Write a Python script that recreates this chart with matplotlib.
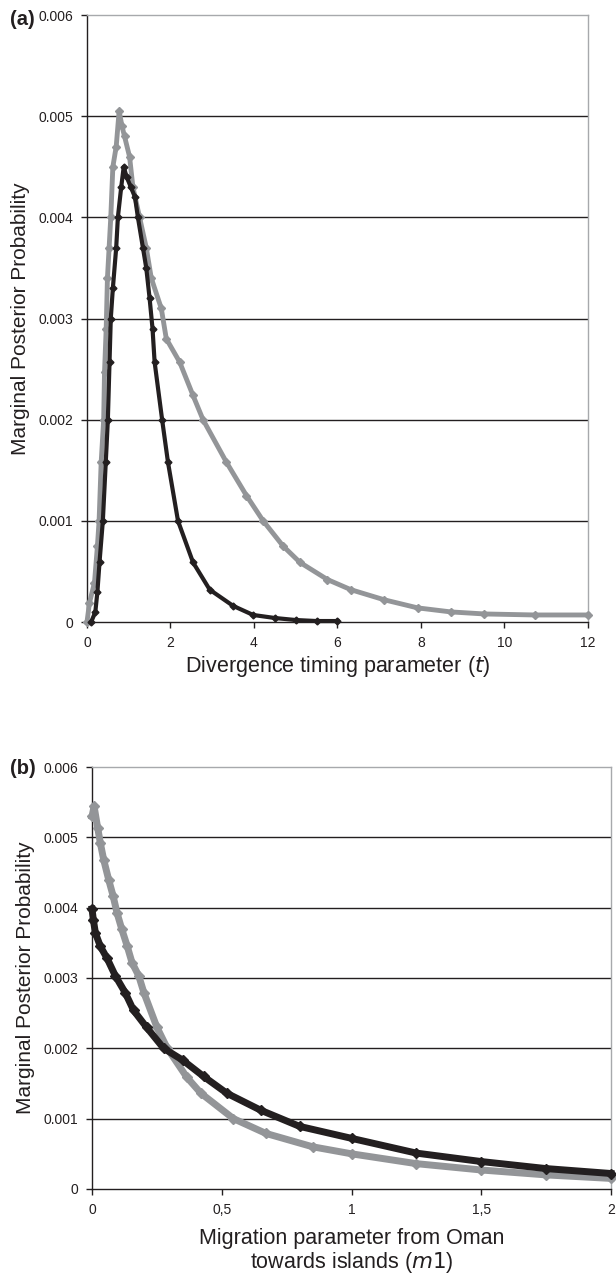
import matplotlib
matplotlib.use("Agg")
import matplotlib.pyplot as plt
from matplotlib.ticker import FixedLocator, FixedFormatter

plt.rcParams['font.family'] = ['Liberation Sans', 'DejaVu Sans']

BLACK = '#231f20'
GREY = '#939598'

# panel (a): divergence timing parameter t
t_black = [0.1, 0.2, 0.25, 0.3, 0.38, 0.45, 0.5, 0.54, 0.57, 0.62, 0.7, 0.74, 0.82, 0.88,
           0.95, 1.05, 1.15, 1.22, 1.34, 1.42, 1.5, 1.57, 1.62, 1.8, 1.94, 2.18, 2.54,
           2.94, 3.5, 3.98, 4.5, 5.0, 5.5, 6.0]
p_t_black = [0.0, 0.0001, 0.0003, 0.00059, 0.001, 0.00158, 0.002, 0.00257, 0.003, 0.0033,
             0.0037, 0.004, 0.0043, 0.0045, 0.0044, 0.0043, 0.0042, 0.004, 0.0037, 0.0035,
             0.0032, 0.0029, 0.00257, 0.002, 0.00158, 0.001, 0.00059, 0.00032, 0.00016,
             0.00007, 0.00004, 0.00002, 0.00001, 0.00001]
t_grey = [0.0, 0.06, 0.18, 0.25, 0.29, 0.34, 0.4, 0.42, 0.46, 0.49, 0.53, 0.57, 0.62, 0.7,
          0.77, 0.84, 0.9, 1.02, 1.1, 1.26, 1.42, 1.54, 1.78, 1.9, 2.22, 2.54, 2.78, 3.34,
          3.82, 4.22, 4.7, 5.1, 5.76, 6.32, 7.12, 7.92, 8.72, 9.52, 10.72, 12.0]
p_t_grey = [0.0, 0.00019, 0.00039, 0.00075, 0.001, 0.00158, 0.002, 0.00247, 0.0029, 0.0034,
            0.0037, 0.004, 0.0045, 0.0047, 0.00505, 0.0049, 0.0048, 0.0046, 0.0043, 0.004,
            0.0037, 0.0034, 0.0031, 0.0028, 0.00257, 0.00224, 0.002, 0.00158, 0.00125,
            0.001, 0.00075, 0.00059, 0.00042, 0.00032, 0.00022, 0.00014, 0.0001, 0.00008,
            0.00007, 0.00007]

# panel (b): migration parameter m1
m_black = [0.0, 0.005, 0.013, 0.032, 0.058, 0.09, 0.128, 0.16, 0.21, 0.276, 0.35, 0.43,
           0.52, 0.65, 0.8, 1.0, 1.25, 1.5, 1.75, 2.0]
p_m_black = [0.00398, 0.00383, 0.00364, 0.00345, 0.00328, 0.00303, 0.00279, 0.00254, 0.0023,
             0.002, 0.00183, 0.0016, 0.00136, 0.00112, 0.00089, 0.00072, 0.00051, 0.00039,
             0.00029, 0.00022]
m_grey = [0.0, 0.008, 0.022, 0.032, 0.045, 0.064, 0.081, 0.096, 0.115, 0.135, 0.154, 0.18,
          0.2, 0.25, 0.29, 0.365, 0.42, 0.545, 0.67, 0.85, 1.0, 1.25, 1.5, 1.75, 2.0]
p_m_grey = [0.0053, 0.00544, 0.00513, 0.00492, 0.00468, 0.0044, 0.00417, 0.00393, 0.00369,
            0.00346, 0.00322, 0.00303, 0.00279, 0.0023, 0.002, 0.00159, 0.00136, 0.001,
            0.00079, 0.0006, 0.0005, 0.00036, 0.00027, 0.0002, 0.00015]

y_ticks = [0, 0.001, 0.002, 0.003, 0.004, 0.005, 0.006]
y_labels = ['0', '0.001', '0.002', '0.003', '0.004', '0.005', '0.006']
xa_ticks = [0, 2, 4, 6, 8, 10, 12]
xa_labels = ['0', '2', '4', '6', '8', '10', '12']
xb_ticks = [0, 0.5, 1, 1.5, 2]
xb_labels = ['0', '0,5', '1', '1,5', '2']


def style_axes(ax, xticks, xlabels, xmax):
  ax.set_xlim(0, xmax)
  ax.set_ylim(0, 0.006)
  ax.xaxis.set_major_locator(FixedLocator(xticks))
  ax.xaxis.set_major_formatter(FixedFormatter(xlabels))
  ax.yaxis.set_major_locator(FixedLocator(y_ticks))
  ax.yaxis.set_major_formatter(FixedFormatter(y_labels))
  for v in y_ticks[1:-1]:
    ax.axhline(v, color=BLACK, lw=1.0, zorder=1)
  ax.spines['top'].set_color('#a7a9ac')
  ax.spines['right'].set_color('#a7a9ac')
  ax.spines['left'].set_color(BLACK)
  ax.spines['bottom'].set_color(BLACK)
  for s in ax.spines.values():
    s.set_linewidth(1.0)
  ax.tick_params(direction='out', length=4, width=1, labelsize=10, colors=BLACK, pad=6)
  ax.set_ylabel('Marginal Posterior Probability', fontsize=15, color=BLACK, labelpad=6)


fig = plt.figure(figsize=(6.16, 12.76), dpi=100)

ax1 = fig.add_axes([0.1412, 0.5125, 0.8133, 0.4757])
style_axes(ax1, xa_ticks, xa_labels, 12)
ax1.plot(t_grey, p_t_grey, color=GREY, lw=3.5, marker='D', ms=4, zorder=3, clip_on=False)
ax1.plot(t_black, p_t_black, color=BLACK, lw=3, marker='D', ms=3.5, zorder=4, clip_on=False)
ax1.set_xlabel('Divergence timing parameter ($\\it{t}$)', fontsize=15.5, color=BLACK, labelpad=3)
fig.text(0.016, 0.985, '(a)', fontsize=14.5, fontweight='bold', color=BLACK, va='center')

ax2 = fig.add_axes([0.1494, 0.0682, 0.8425, 0.3307])
style_axes(ax2, xb_ticks, xb_labels, 2)
ax2.plot(m_grey, p_m_grey, color=GREY, lw=5, marker='D', ms=5, zorder=3, clip_on=False)
ax2.plot(m_black, p_m_black, color=BLACK, lw=5, marker='D', ms=5, zorder=4, clip_on=False)
ax2.set_xlabel('Migration parameter from Oman\ntowards islands ($\\it{m1}$)', fontsize=15.5,
               color=BLACK, labelpad=8, linespacing=1.05)
fig.text(0.016, 0.398, '(b)', fontsize=14.5, fontweight='bold', color=BLACK, va='center')

fig.savefig('out.png', dpi=100)
